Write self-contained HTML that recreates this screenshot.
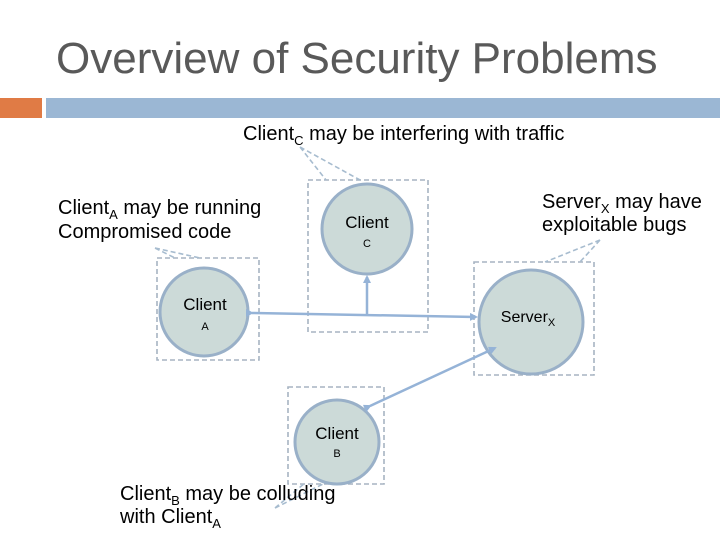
<!DOCTYPE html>
<html><head><style>
body{margin:0;background:#fff;}
svg{display:block;font-family:"Liberation Sans",Arial,sans-serif;}
</style></head><body>
<svg width="720" height="540" viewBox="0 0 720 540">
<defs>
<marker id="ar" markerWidth="8" markerHeight="8" refX="6" refY="4" orient="auto" markerUnits="userSpaceOnUse">
<path d="M0,0 L8,4 L0,8 z" fill="#95b3d7"/>
</marker>
</defs>
<text x="56" y="73" font-size="44" fill="#595959">Overview of Security Problems</text>
<rect x="0" y="98" width="42" height="20" fill="#e07b45"/>
<rect x="46" y="98" width="674" height="20" fill="#9bb7d4"/>

<g fill="none" stroke="#a7b4c2" stroke-width="1.6" stroke-dasharray="5,3">
<rect x="308" y="180" width="120" height="152"/>
<rect x="157" y="258" width="102" height="102"/>
<rect x="474" y="262" width="120" height="113"/>
<rect x="288" y="387" width="96" height="97"/>
</g>
<g fill="none" stroke="#a7bccf" stroke-width="1.6" stroke-dasharray="5,3">
<path d="M300,147 L326,180 M300,147 L360,180"/>
<path d="M155,248 L175,258 M155,248 L200,258"/>
<path d="M600,240 L545,262 M600,240 L580,262"/>
<path d="M275,508 L305,483 M275,508 L325,483"/>
</g>

<g fill="#ccdad8" stroke="#99b0c8" stroke-width="3">
<circle cx="367" cy="229" r="45"/>
<circle cx="204" cy="312" r="44"/>
<circle cx="531" cy="322" r="52"/>
<circle cx="337" cy="442" r="42"/>
</g>

<g stroke="#95b3d7" stroke-width="2.5" fill="none">
<line x1="252" y1="313" x2="476" y2="317" marker-start="url(#ar)" marker-end="url(#ar)"/>
<line x1="367" y1="315" x2="367" y2="277" marker-end="url(#ar)"/>
<line x1="370" y1="406" x2="495" y2="348" marker-start="url(#ar)" marker-end="url(#ar)"/>
</g>

<g fill="#000" text-anchor="middle">
<text x="367" y="228" font-size="17">Client</text>
<text x="367" y="247" font-size="11">C</text>
<text x="205" y="310" font-size="17">Client</text>
<text x="205" y="330" font-size="11">A</text>
<text x="528" y="322" font-size="16">Server<tspan font-size="11" dy="4">X</tspan></text>
<text x="337" y="439" font-size="17">Client</text>
<text x="337" y="457" font-size="11">B</text>
</g>
<g fill="#000" font-size="20">
<text x="243" y="140">Client<tspan font-size="13" dy="5">C</tspan><tspan dy="-5"> may be interfering with traffic</tspan></text>
<text x="58" y="214">Client<tspan font-size="13" dy="5">A</tspan><tspan dy="-5"> may be running</tspan></text>
<text x="58" y="238">Compromised code</text>
<text x="542" y="208">Server<tspan font-size="13" dy="5">X</tspan><tspan dy="-5"> may have</tspan></text>
<text x="542" y="231">exploitable bugs</text>
<text x="120" y="500">Client<tspan font-size="13" dy="5">B</tspan><tspan dy="-5"> may be colluding</tspan></text>
<text x="120" y="523">with Client<tspan font-size="13" dy="5">A</tspan></text>
</g>
</svg>
</body></html>
